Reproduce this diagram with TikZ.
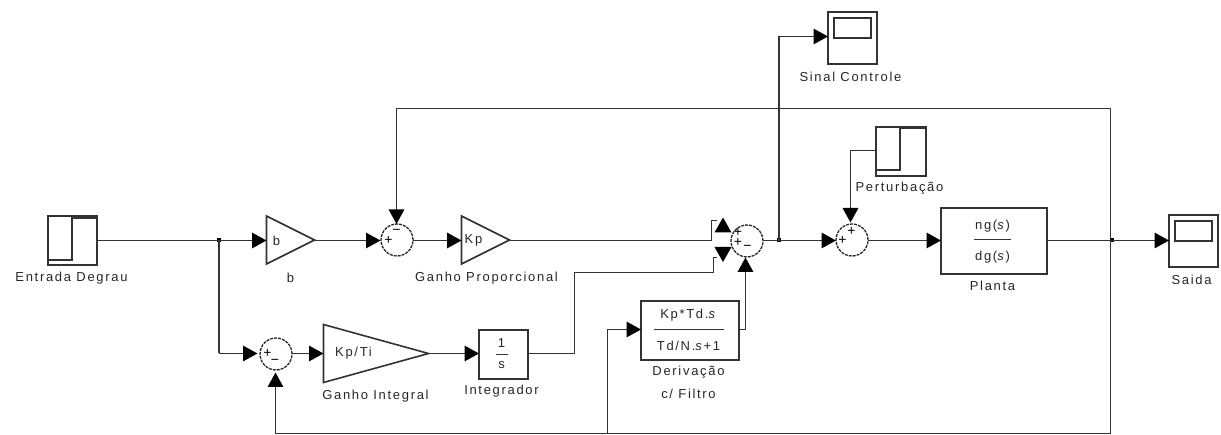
\documentclass[tikz,border=0pt]{standalone}
\usepackage{fontspec}
\setmainfont[LetterSpace=13]{Liberation Sans}
\usetikzlibrary{arrows.meta}
\tikzset{
  x=1pt,y=-1pt,
  wire/.style={line width=1.6pt,black!80,line cap=butt,line join=miter},
  conn/.style={wire,-{Triangle[length=14.5pt,width=15.5pt,color=black]}},
  blk/.style={draw,line width=1.6pt,black!80,rectangle,inner sep=0pt,outer sep=0pt,minimum width=#1},
  blkh/.style={minimum height=#1},
  gain/.style={rectangle,inner sep=0pt,outer sep=0pt,minimum width=#1},
  sumblk/.style={draw,circle,line width=1.3pt,black!85,minimum size=32pt,inner sep=0pt,outer sep=0pt,dash pattern=on 3pt off 1pt},
  lab/.style={inner sep=0pt,font=\fontsize{13}{15}\selectfont,text=black!85,anchor=center},
  sgn/.style={inner sep=0pt,font=\fontsize{14}{14}\selectfont,text=black},
  dot/.style={fill=black,rectangle,inner sep=0pt,outer sep=0pt,minimum size=4pt},
  thin line/.style={line width=1.6pt,black!80}
}
\begin{document}
\begin{tikzpicture}
\useasboundingbox (0,0) rectangle (1221,435);
\begin{scope}[shift={(0.5,0.5)}]
% step sources
\node[blk=49pt,blkh=49pt] (entrada) at (72,240) {};
\draw[thin line] (47,259.5) -- (71.5,259.5) -- (71.5,217.5) -- (97,217.5);
\node[blk=50pt,blkh=49pt] (pert) at (900.5,151) {};
\draw[thin line] (875,169.5) -- (899.5,169.5) -- (899.5,127.5) -- (925,127.5);
% gains
\node[gain=48pt,minimum height=48pt] (gb) at (290,239.5) {};
\draw[thin line] (gb.north west) -- (gb.east) -- (gb.south west) -- cycle;
\node[gain=48pt,minimum height=48pt] (gkp) at (485,239.5) {};
\draw[thin line] (gkp.north west) -- (gkp.east) -- (gkp.south west) -- cycle;
\node[gain=105pt,minimum height=58pt] (gki) at (375.5,353) {};
\draw[thin line] (gki.north west) -- (gki.east) -- (gki.south west) -- cycle;
% sums
\node[sumblk] (s1) at (396.5,239.5) {};
\node[sumblk] (s2) at (746.5,240.5) {};
\node[sumblk] (s3) at (275.5,353.5) {};
\node[sumblk] (s4) at (851.5,239.5) {};
% boxes
\node[blk=49pt,blkh=49pt] (integ) at (503,354) {};
\node[blk=98pt,blkh=59pt] (deriv) at (689.5,330) {};
\node[blk=106pt,blkh=66pt] (planta) at (993.5,240.5) {};
\node[blk=49pt,blkh=52pt] (scs) at (852,37.5) {};
\node[blk=37pt,blkh=20pt] (scsi) at (852,27.5) {};
\node[blk=49pt,blkh=52pt] (sco) at (1193,240.5) {};
\node[blk=37pt,blkh=20pt] (scoi) at (1193,230.5) {};
% junctions
\node[dot] (j1) at (218.5,240) {};
\node[dot] (j2) at (778.5,240) {};
\node[dot] (j3) at (1111.5,240) {};
% routing points
\coordinate (top) at (1110,108);
\coordinate (bot) at (1110,433);
\coordinate (upin) at (716,220);
\coordinate (dnin) at (716,257);
% block text
\node[lab] (tb) at (276,240) {b};
\node[lab] (tkp) at (473,240) {Kp};
\node[lab] (tki) at (353,353) {Kp/Ti};
\node[lab] (t1) at (501,343) {1};
\node[lab] (ts) at (501,364.5) {s};
\draw[thin line] (495.5,354) -- (507,354);
\node[lab] (tn1) at (688,315) {Kp*Td.\textit{s}};
\node[lab] (td1) at (688,345) {Td/N.\textit{s}+1};
\draw[thin line] (653,329) -- (723,329);
\node[lab] (tn2) at (992,226) {ng(\textit{s})};
\node[lab] (td2) at (992,257) {dg(\textit{s})};
\draw[thin line] (973,239) -- (1010,239);
% labels
\node[lab] (l1) at (71,277.5) {Entrada Degrau};
\node[lab] (l2) at (290,277.5) {b};
\node[lab] (l3) at (486,277.5) {Ganho Proporcional};
\node[lab] (l4) at (375,396) {Ganho Integral};
\node[lab] (l5) at (501,391) {Integrador};
\node[lab] (l6) at (688,372) {Derivação};
\node[lab] (l7) at (688,393) {c/ Filtro};
\node[lab] (l8) at (850,76) {Sinal Controle};
\node[lab] (l9) at (899,188) {Perturbação};
\node[lab] (l10) at (992,285.5) {Planta};
\node[lab] (l11) at (1191,279) {Saida};
% signs
\node[sgn] (p1) at (388,240) {+};
\node[sgn] (m1) at (396,231) {\textminus};
\node[sgn] (p3) at (267,353) {+};
\node[sgn] (m3) at (274.5,361) {\textminus};
\node[sgn] (p2a) at (737.5,231.5) {+};
\node[sgn] (p2b) at (737.5,242) {+};
\node[sgn] (m2) at (747,247) {\textminus};
\node[sgn] (p4a) at (851,231) {+};
\node[sgn] (p4b) at (842,240) {+};
% connectors
\draw[conn] (entrada.east |- j1) -- (gb.west |- j1);
\draw[wire] (j1.center) -- (218.5,353) coordinate (c3);
\draw[conn,shorten >=2.5pt] (c3) -- (s3.west |- c3);
\draw[conn] (gb.east |- j1) -- ([xshift=-0.5pt]s1.west |- j1);
\draw[conn] (s1.east |- j1) -- (gkp.west |- j1);
\draw[wire] (gkp.east |- j1) -- (711,240) |- (upin);
\fill[black] (714,232) -- (731,232) -- (722.5,217) -- cycle;
\draw[wire] (integ.east |- 0,353) -- (574,353) |- (713,272) |- (dnin);
\fill[black] (714,246.5) -- (731,246.5) -- (722.5,261.5) -- cycle;
\draw[conn] (deriv.east |- 0,329) -| (745,257);
\draw[wire] (s2.east |- j2) -- (j2.center);
\draw[conn] (j2.center) -- (s4.west |- j2);
\draw[conn] (j2.center) |- (scs.west |- 0,36);
\draw[conn] (s4.east |- j2) -- (planta.west |- j2);
\draw[wire] (planta.east |- j3) -- (j3.center);
\draw[conn] (j3.center) -- (sco.west |- j3.center);
\draw[conn] (pert.west |- 0,150) -| (850,222);
\draw[conn] (s3.east |- 0,353) -- (gki.west |- 0,353);
\draw[conn] (gki.east |- 0,353) -- (integ.west |- 0,353);
\draw[wire] (j3.center -| top) -- (top);
\draw[wire] (j3.center -| top) -- (bot);
\draw[conn] (top) -| (396,223.5);
\draw[conn] (bot) -| (275,372);
\draw[conn] (607,433) |- (deriv.west |- 0,329);
\end{scope}
\end{tikzpicture}
\end{document}
